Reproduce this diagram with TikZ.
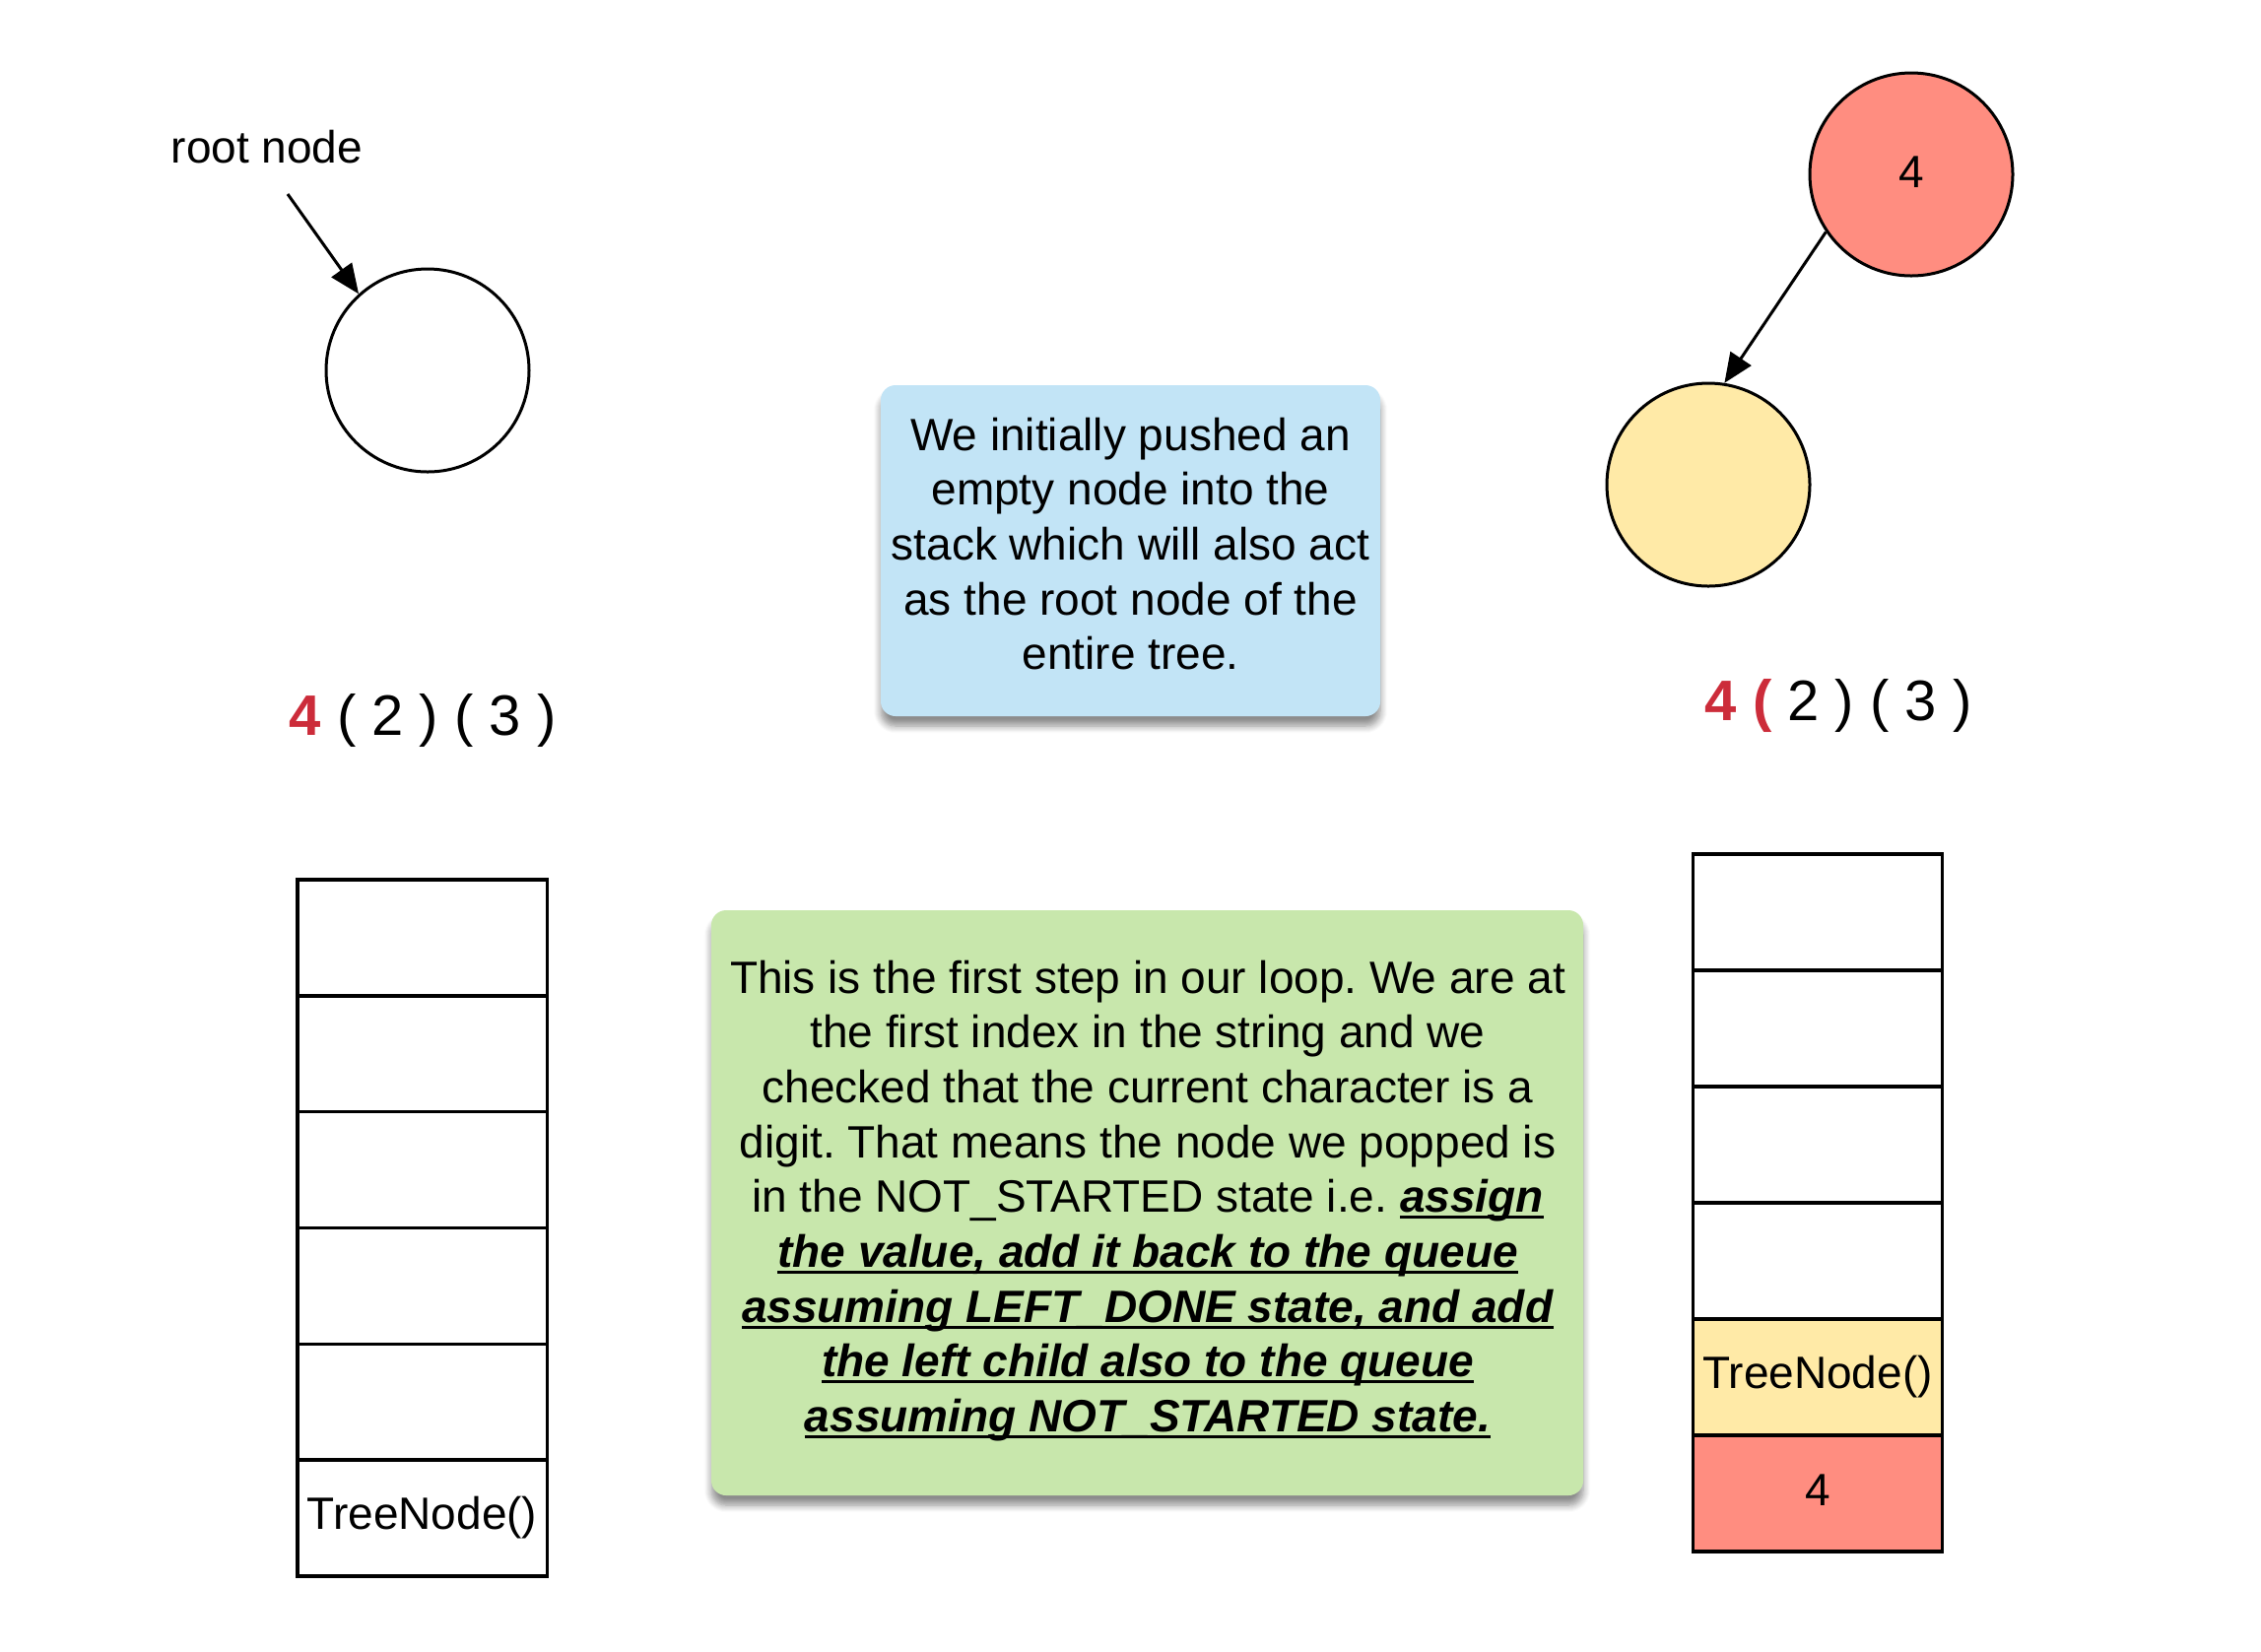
\documentclass[tikz,border=0pt]{standalone}
\usepackage{fontspec}
\setmainfont{Liberation Sans}
\usetikzlibrary{arrows.meta,shadows.blur}
\definecolor{exred}{RGB}{204,44,58}
\definecolor{nodered}{RGB}{255,141,128}
\definecolor{nodeyellow}{RGB}{255,234,167}
\definecolor{notebluefill}{RGB}{194,228,246}
\definecolor{notegreenfill}{RGB}{200,231,172}
\newsavebox{\ulbox}
\newcommand{\bu}[1]{\sbox\ulbox{\textbf{\textit{#1}}}\rlap{\rule[-1.9pt]{\wd\ulbox}{0.9pt}}\usebox\ulbox}
\frenchspacing
\begin{document}
\frenchspacing
\begin{tikzpicture}[x=0.3pt,y=-0.3pt,
  txt/.style={font=\fontsize{13.8}{16.7}\selectfont\frenchspacing, text=black},
  tnode/.style={circle, draw=black, line width=0.9pt, minimum size=61.8pt, inner sep=0pt, txt},
  cell/.style={rectangle, draw=black, line width=1pt, minimum width=76pt, minimum height=35.4pt, inner sep=0pt, txt},
  note/.style={rectangle, rounded corners=4.5pt, inner sep=0pt,
     blur shadow={shadow xshift=0pt, shadow yshift=-3pt, shadow blur steps=8, shadow opacity=45}},
  notetext/.style={align=center, inner sep=0pt, txt},
  expr/.style={font=\fontsize{17.4}{20}\selectfont, anchor=base west, inner sep=0pt},
  arr/.style={line width=0.9pt, -{Triangle[length=9pt,width=7.5pt]}}
]
\useasboundingbox (0,0) rectangle (2295,1676);

% left part
\node[txt, anchor=base, inner sep=0pt] (rootlbl) at (271,165) {root node};
\coordinate (rootarr) at (292,197);
\node[tnode] (lc) at (434,376) {};
\draw[arr] (rootarr) -- (lc.132);

\node[expr] (lexpr) at (293,746) {\textcolor{exred}{\textbf{4}} ( 2 ) ( 3 )};

\foreach \i in {0,...,4} {
  \node[cell] (L\i) at (428.5,{952+117.8*\i}) {};
}
\node[cell] (L5) at (428.5,{952+117.8*5}) {TreeNode()};

% notes
\node[note, fill=notebluefill, minimum width=152.1pt, minimum height=100.8pt] (blue) at (1147.5,559) {};
\node[notetext] (bluetext) at (1147.5,552)
  {We initially pushed an\\empty node into the\\stack which will also act\\as the root node of the\\entire tree.};

\node[note, fill=notegreenfill, minimum width=265.5pt, minimum height=178.2pt] (green) at (1164.5,1221) {};
\node[notetext] (greentext) at (1165,1219)
  {This is the first step in our loop. We are at\\
   the first index in the string and we\\
   checked that the current character is a\\
   digit. That means the node we popped is\\
   in the NOT\_STARTED state i.e. \bu{assign}\\
   \bu{the value, add it back to the queue}\\
   \bu{assuming LEFT\_DONE state, and add}\\
   \bu{the left child also to the queue}\\
   \bu{assuming NOT\_STARTED state.}};

% right part
\node[tnode, fill=nodered] (rc) at (1940,177) {\raisebox{1.5pt}{4}};
\node[tnode, fill=nodeyellow] (yc) at (1734,492) {};
\draw[arr] (rc.214) -- (yc.81);

\node[expr] (rexpr) at (1730,731) {\textcolor{exred}{\textbf{4 (}} 2 ) ( 3 )};

\foreach \i in {0,...,3} {
  \node[cell] (R\i) at (1845,{926+118*\i}) {};
}
\node[cell, fill=nodeyellow] (R4) at (1845,{926+118*4}) {\raisebox{0.6pt}{TreeNode()}};
\node[cell, fill=nodered] (R5) at (1845,{926+118*5}) {\raisebox{2pt}{4}};
\end{tikzpicture}
\end{document}
